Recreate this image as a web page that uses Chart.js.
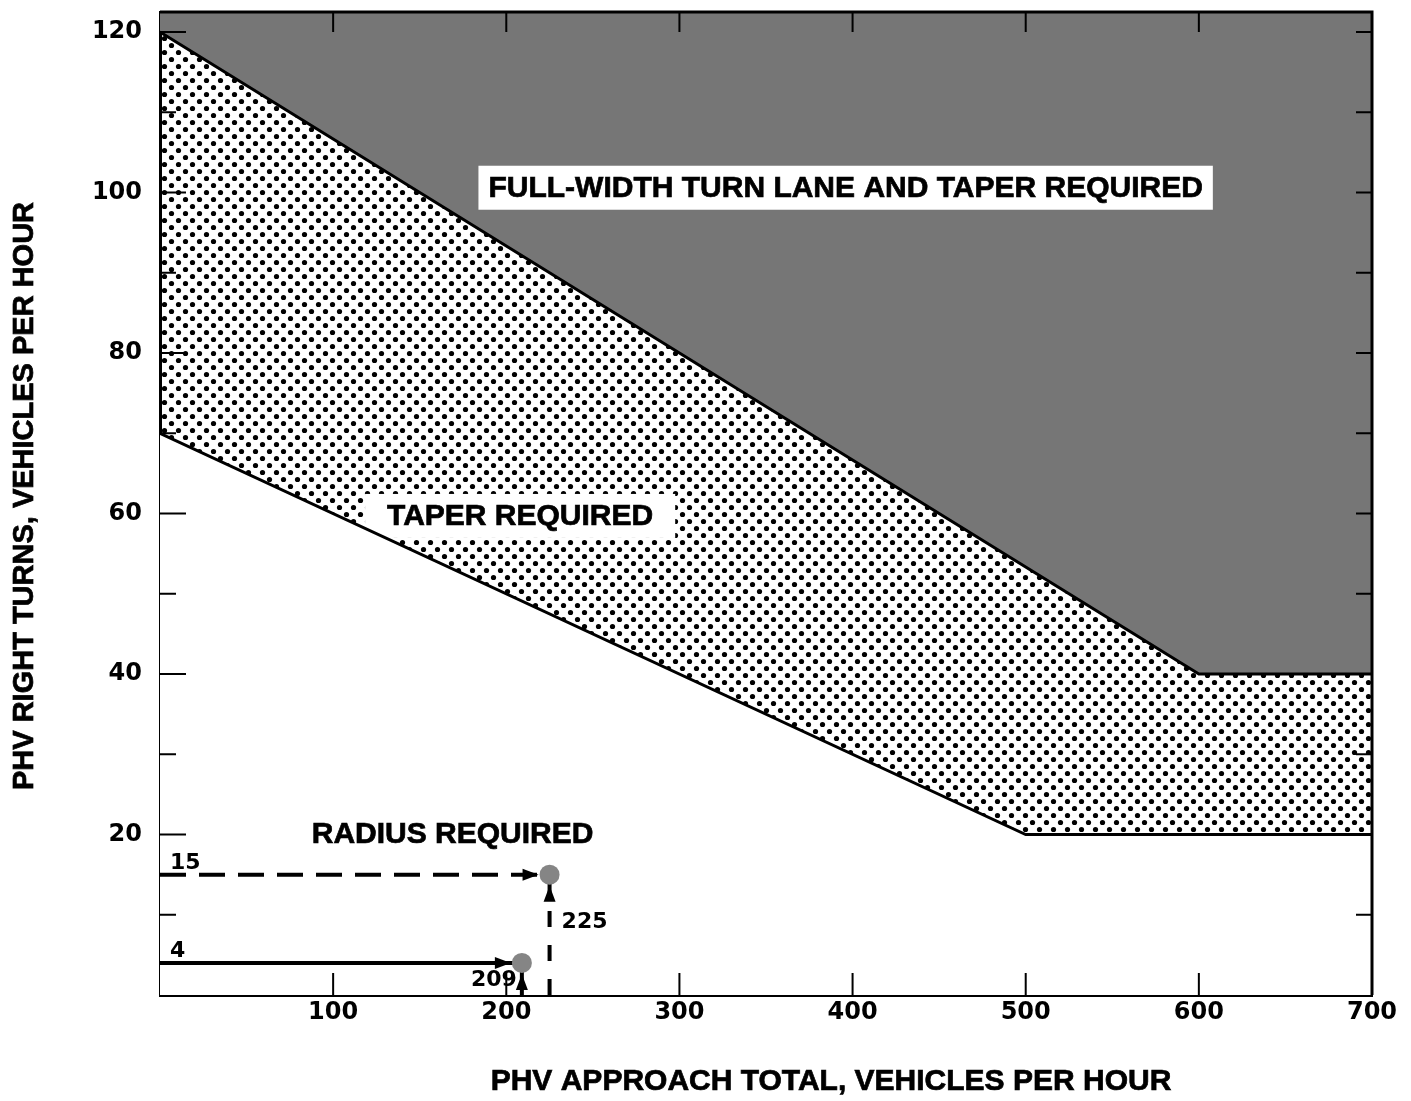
<!DOCTYPE html>
<html>
<head>
<meta charset="utf-8">
<script src="https://cdn.jsdelivr.net/npm/chart.js@4.4.1/dist/chart.umd.min.js"></script>
<style>
  html, body { margin: 0; padding: 0; background: #fff; }
</style>
</head>
<body>
<canvas id="myChart" width="1411" height="1101"></canvas>
<script>
// region boundaries: PHV approach total (x) vs PHV right turns (y)
const upperX = [0, 600, 700];
const upperY = [120, 40, 40];
const lowerX = [0, 500, 700];
const lowerY = [70, 20, 20];

// the two worked examples drawn on the chart
const exampleApproach = [225, 209];
const exampleTurns = [15, 4];
const exampleDashed = [true, false];

const xTicks = [100, 200, 300, 400, 500, 600, 700];
const yTicks = [20, 40, 60, 80, 100, 120];

const FONT = '"Liberation Sans", Arial, sans-serif';
const FONT_WIDE = '"DejaVu Sans", sans-serif';
Chart.defaults.font.family = FONT;

const toPoints = (xs, ys) => xs.map((x, i) => ({ x: x, y: ys[i] }));

const datasets = [{
  label: 'examples',
  data: toPoints(exampleApproach, exampleTurns),
  showLine: false,
  pointRadius: 10,
  pointBackgroundColor: '#858585',
  pointBorderWidth: 0,
  order: 0
}];

exampleApproach.forEach((a, i) => {
  const dashed = exampleDashed[i];
  const t = exampleTurns[i];
  datasets.push({
    label: 'turns ' + t,
    data: [{ x: 0, y: t }, { x: a, y: t }],
    borderColor: '#000',
    borderWidth: 4,
    borderDash: dashed ? [26, 13] : [],
    pointRadius: 0,
    fill: false,
    order: 1
  });
  datasets.push({
    label: 'approach ' + a,
    data: [{ x: a, y: 0 }, { x: a, y: t }],
    borderColor: '#000',
    borderWidth: 4,
    borderDash: dashed ? [16, 18] : [],
    pointRadius: 0,
    fill: false,
    order: 1
  });
});

datasets.push({
  label: 'full-width lane',
  data: toPoints(upperX, upperY),
  borderColor: '#000',
  borderWidth: 3,
  backgroundColor: '#767676',
  fill: 'end',
  pointRadius: 0,
  order: 2
});
datasets.push({
  label: 'radius only',
  data: toPoints(lowerX, lowerY),
  borderColor: '#000',
  borderWidth: 3,
  backgroundColor: '#fff',
  fill: 'start',
  pointRadius: 0,
  order: 2
});

function dotPattern(ctx) {
  const c = document.createElement('canvas');
  c.width = 14; c.height = 14;
  const g = c.getContext('2d');
  g.fillStyle = '#fff';
  g.fillRect(0, 0, 14, 14);
  g.fillStyle = '#000';
  [[3.5, 3.5], [10.5, 10.5]].forEach(([px, py]) => {
    g.beginPath();
    g.arc(px, py, 2.6, 0, Math.PI * 2);
    g.fill();
  });
  return ctx.createPattern(c, 'repeat');
}

// bold text with a thin outline to get the heavy look of the print
function heavyText(ctx, text, x, y) {
  ctx.fillText(text, x, y);
  ctx.strokeText(text, x, y);
}

const decor = {
  id: 'decor',
  beforeDraw(chart) {
    const { ctx, chartArea: a } = chart;
    ctx.save();
    ctx.fillStyle = '#fff';
    ctx.fillRect(0, 0, chart.width, chart.height);
    ctx.fillStyle = dotPattern(ctx);
    ctx.fillRect(a.left, a.top, a.right - a.left, a.bottom - a.top);
    ctx.restore();
  },
  // region labels sit above the fills but under the boundary lines
  beforeDatasetsDraw(chart, args, opts) {
    const { ctx } = chart;
    const xs = chart.scales.x, ys = chart.scales.y;
    ctx.save();
    ctx.font = 'bold 30px ' + FONT;
    ctx.textAlign = 'center';
    ctx.textBaseline = 'middle';
    ctx.strokeStyle = '#000';
    ctx.lineWidth = 0.7;
    opts.labels.forEach(l => {
      const px = xs.getPixelForValue(l.x);
      const py = ys.getPixelForValue(l.y);
      if (l.padX) {
        const w = ctx.measureText(l.text).width + 2 * l.padX;
        ctx.fillStyle = '#fff';
        ctx.fillRect(px - w / 2, py - 22, w, 44);
      }
      ctx.fillStyle = '#000';
      heavyText(ctx, l.text, px, py + 1);
    });
    ctx.restore();
  },
  afterDraw(chart) {
    const { ctx, chartArea: a } = chart;
    const xs = chart.scales.x, ys = chart.scales.y;
    ctx.save();

    // frame top and right
    ctx.strokeStyle = '#000';
    ctx.lineWidth = 3;
    ctx.beginPath();
    ctx.moveTo(a.left, a.top);
    ctx.lineTo(a.right, a.top);
    ctx.lineTo(a.right, a.bottom);
    ctx.stroke();

    // inward tick marks
    ctx.lineWidth = 2;
    ctx.beginPath();
    for (let v = 10; v <= 120; v += 10) {
      const py = ys.getPixelForValue(v);
      ctx.moveTo(a.left, py);
      ctx.lineTo(a.left + (v % 20 === 0 ? 26 : 16), py);
      ctx.moveTo(a.right, py);
      ctx.lineTo(a.right - 16, py);
    }
    for (let v = 100; v < 700; v += 100) {
      const px = xs.getPixelForValue(v);
      ctx.moveTo(px, a.bottom);
      ctx.lineTo(px, a.bottom - 22);
      ctx.moveTo(px, a.top);
      ctx.lineTo(px, a.top + 20);
    }
    ctx.stroke();

    // arrowheads and example labels
    ctx.fillStyle = '#000';
    ctx.font = 'bold 22px ' + FONT_WIDE;
    exampleApproach.forEach((av, i) => {
      const dx = xs.getPixelForValue(av);
      const dy = ys.getPixelForValue(exampleTurns[i]);
      const r = 11;
      ctx.beginPath();
      ctx.moveTo(dx - r, dy);
      ctx.lineTo(dx - r - 16, dy - 6);
      ctx.lineTo(dx - r - 16, dy + 6);
      ctx.closePath();
      ctx.fill();
      ctx.beginPath();
      ctx.moveTo(dx, dy + r);
      ctx.lineTo(dx - 6, dy + r + 16);
      ctx.lineTo(dx + 6, dy + r + 16);
      ctx.closePath();
      ctx.fill();

      ctx.textBaseline = 'alphabetic';
      ctx.textAlign = 'left';
      ctx.fillText(String(exampleTurns[i]), a.left + 10, dy - 6);
      if (exampleDashed[i]) {
        ctx.fillText(String(av), dx + 12, dy + 53);
      } else {
        ctx.textAlign = 'right';
        ctx.fillText(String(av), dx - 5, a.bottom - 9);
      }
    });

    // axis titles
    ctx.textAlign = 'center';
    ctx.textBaseline = 'middle';
    ctx.lineWidth = 0.7;
    ctx.font = 'bold 30px ' + FONT;
    heavyText(ctx, 'PHV APPROACH TOTAL, VEHICLES PER HOUR', 831, 1082);
    ctx.font = 'bold 29px ' + FONT;
    ctx.translate(25, 496);
    ctx.rotate(-Math.PI / 2);
    heavyText(ctx, 'PHV RIGHT TURNS, VEHICLES PER HOUR', 0, 0);
    ctx.restore();
  }
};

const ctx = document.getElementById('myChart').getContext('2d');
const myChart = new Chart(ctx, {
  type: 'line',
  data: { datasets: datasets },
  plugins: [decor],
  options: {
    responsive: false,
    animation: false,
    layout: { padding: { left: 0, top: 12, right: 39, bottom: 0 } },
    plugins: {
      legend: { display: false },
      tooltip: { enabled: false },
      filler: { drawTime: 'beforeDatasetsDraw' },
      decor: {
        labels: [
          { text: 'FULL-WIDTH TURN LANE AND TAPER REQUIRED', x: 396, y: 100.6, padX: 10 },
          { text: 'TAPER REQUIRED', x: 208, y: 59.7, padX: 22 },
          { text: 'RADIUS REQUIRED', x: 169, y: 20.1 }
        ]
      }
    },
    scales: {
      x: {
        type: 'linear',
        min: 0,
        max: 700,
        z: 1,
        afterBuildTicks: s => { s.ticks = xTicks.map(v => ({ value: v })); },
        afterFit: s => { s.height = 106; s.paddingLeft = 0; s.paddingRight = 0; },
        ticks: { color: '#000', font: { family: FONT_WIDE, size: 24, weight: 'bold' }, padding: 3, maxRotation: 0, autoSkip: false },
        grid: { display: false, drawTicks: false },
        border: { display: true, color: '#000', width: 3 }
      },
      y: {
        type: 'linear',
        min: 0,
        max: 122.5,
        z: 1,
        afterBuildTicks: s => { s.ticks = yTicks.map(v => ({ value: v })); },
        afterFit: s => { s.width = 160; s.paddingTop = 0; s.paddingBottom = 0; },
        ticks: { color: '#000', font: { family: FONT_WIDE, size: 24, weight: 'bold' }, padding: 18 },
        grid: { display: false, drawTicks: false },
        border: { display: true, color: '#000', width: 3 }
      }
    }
  }
});
</script>
</body>
</html>
